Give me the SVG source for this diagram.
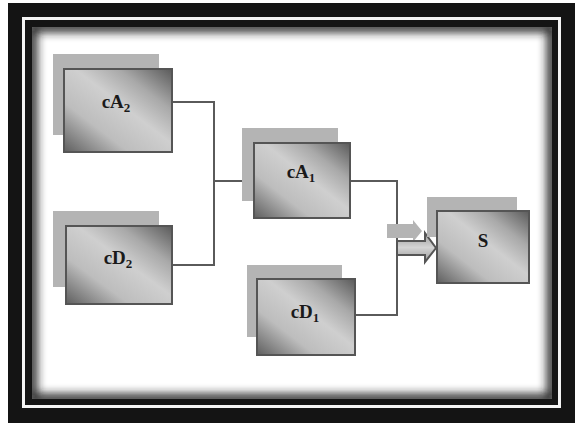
<svg xmlns="http://www.w3.org/2000/svg" width="575" height="423" viewBox="0 0 575 423">
<defs>
<linearGradient id="boxg" x1="0" y1="1" x2="1" y2="0">
<stop offset="0" stop-color="#5e5e5e"/>
<stop offset="0.3" stop-color="#bdbdbd"/>
<stop offset="0.55" stop-color="#cfcfcf"/>
<stop offset="0.75" stop-color="#a9a9a9"/>
<stop offset="1" stop-color="#5a5a5a"/>
</linearGradient>
<linearGradient id="arrg" x1="0" y1="0" x2="0" y2="1">
<stop offset="0" stop-color="#9a9a9a"/>
<stop offset="0.5" stop-color="#d4d4d4"/>
<stop offset="1" stop-color="#9a9a9a"/>
</linearGradient>
<filter id="blur" x="-5%" y="-5%" width="110%" height="110%">
<feGaussianBlur stdDeviation="5"/>
</filter>
<clipPath id="inner"><rect x="32" y="27" width="520" height="372"/></clipPath>
<style>
.shadow{fill:#b4b4b4}
.box{fill:url(#boxg);stroke:#555;stroke-width:2}
.lbl{font-family:"Liberation Serif",serif;font-weight:bold;font-size:19px;fill:#1a1a1a;text-anchor:middle}
.sub{font-size:13px}
.conn{fill:none;stroke:#5a5a5a;stroke-width:2}
</style>
</defs>
<rect width="575" height="423" fill="#fff"/>
<rect x="8" y="3" width="567" height="420" fill="#141414"/>
<rect x="23.5" y="18.5" width="536" height="388" fill="none" stroke="#f4f4f4" stroke-width="3"/>
<rect x="27" y="22" width="529" height="381" fill="#141414"/>
<rect x="32" y="27" width="520" height="372" fill="#fff"/>
<g clip-path="url(#inner)">
<rect x="32" y="27" width="520" height="372" fill="none" stroke="#222" stroke-width="10" filter="url(#blur)"/>
</g>
<g id="connectors">
<polyline class="conn" points="172,102 214,102 214,265 172,265"/>
<line class="conn" x1="214" y1="181" x2="254" y2="181"/>
<polyline class="conn" points="350,181 397,181 397,315 355,315"/>
<polygon points="387,224 413,224 413,220 422,231 413,242 413,238 387,238" fill="#b4b4b4"/>
<polygon points="397,241 425,241 425,233 436,248 425,262 425,255 397,255" fill="url(#arrg)" stroke="#555" stroke-width="2"/>
</g>
<g id="cA2">
<rect class="shadow" x="53" y="54" width="106" height="81"/>
<rect class="box" x="64" y="69" width="108" height="83"/>
<text class="lbl" x="116" y="108">cA<tspan class="sub" dy="4">2</tspan></text>
</g>
<g id="cD2">
<rect class="shadow" x="53" y="211" width="106" height="76"/>
<rect class="box" x="66" y="226" width="106" height="78"/>
<text class="lbl" x="118" y="264">cD<tspan class="sub" dy="4">2</tspan></text>
</g>
<g id="cA1">
<rect class="shadow" x="242" y="128" width="96" height="73"/>
<rect class="box" x="254" y="143" width="96" height="75"/>
<text class="lbl" x="301" y="178">cA<tspan class="sub" dy="4">1</tspan></text>
</g>
<g id="cD1">
<rect class="shadow" x="247" y="265" width="95" height="72"/>
<rect class="box" x="257" y="279" width="98" height="76"/>
<text class="lbl" x="305" y="318">cD<tspan class="sub" dy="4">1</tspan></text>
</g>
<g id="S">
<rect class="shadow" x="427" y="197" width="90" height="40"/>
<rect class="box" x="437" y="211" width="92" height="72"/>
<text class="lbl" x="483" y="247">S</text>
</g>
</svg>
